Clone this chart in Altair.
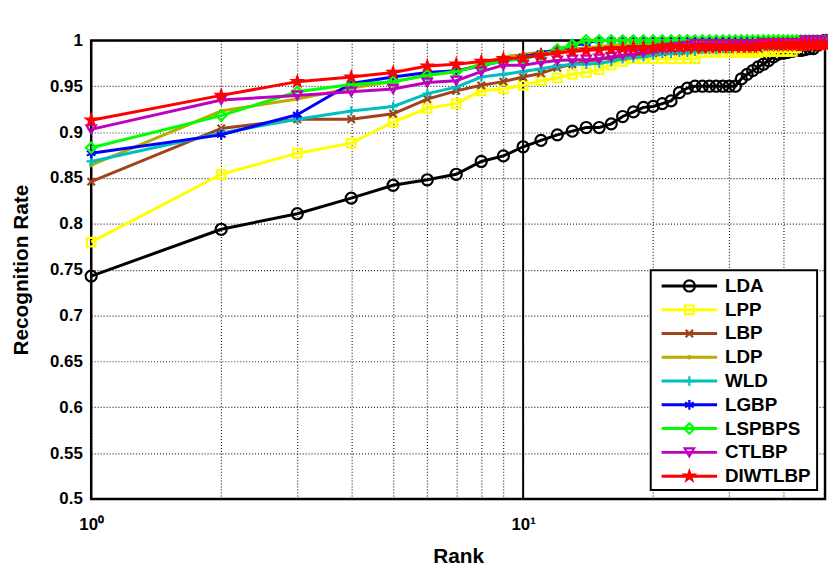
import math
import altair as alt
import pandas as pd

FONT = "Liberation Sans"

ranks = list(range(1, 51))
names = ["LDA", "LPP", "LBP", "LDP", "WLD", "LGBP", "LSPBPS", "CTLBP", "DIWTLBP"]

LDA = [0.743, 0.794, 0.811, 0.828, 0.842, 0.848, 0.854, 0.868, 0.874, 0.884,
       0.891, 0.897, 0.901, 0.905, 0.905, 0.909, 0.917, 0.922, 0.927, 0.928,
       0.931, 0.934, 0.943, 0.948, 0.950, 0.950, 0.950, 0.950, 0.950, 0.950,
       0.950, 0.958, 0.963, 0.967, 0.971, 0.974, 0.978, 0.982, 0.985, 0.986,
       0.987, 0.988, 0.989, 0.989, 0.990, 0.991, 0.991, 0.995, 0.998, 1.000]
LPP = [0.780, 0.854, 0.877, 0.888, 0.911, 0.926, 0.931, 0.945, 0.947, 0.951,
       0.956, 0.959, 0.963, 0.965, 0.968, 0.973, 0.977, 0.980, 0.980, 0.980,
       0.980, 0.980, 0.980, 0.980, 0.980, 0.987, 0.987, 0.987, 0.987, 0.987,
       0.987, 0.987, 0.987, 0.987, 0.987, 0.988, 0.988, 0.988, 0.988, 0.988,
       0.988, 0.988, 0.992, 0.995, 0.995, 0.997, 0.997, 1.000, 1.000, 1.000]
LBP = [0.846, 0.904, 0.914, 0.914, 0.920, 0.936, 0.945, 0.951, 0.955, 0.960,
       0.964, 0.970, 0.974, 0.977, 0.979, 0.981, 0.982, 0.984, 0.985, 0.986,
       0.987, 0.988, 0.988, 0.989, 0.990, 0.990, 0.991, 0.991, 0.992, 0.992,
       0.993, 0.993, 0.994, 0.994, 0.995, 0.995, 0.996, 0.996, 0.997, 0.997,
       0.998, 0.998, 0.999, 1.000, 1.000, 1.000, 1.000, 1.000, 1.000, 1.000]
LDP = [0.864, 0.923, 0.936, 0.948, 0.955, 0.962, 0.966, 0.974, 0.982, 0.985,
       0.987, 0.988, 0.990, 0.992, 0.993, 0.995, 0.995, 0.995, 0.996, 0.996,
       0.997, 0.997, 0.998, 0.998, 1.000, 1.000, 1.000, 1.000, 1.000, 1.000,
       1.000, 1.000, 1.000, 1.000, 1.000, 1.000, 1.000, 1.000, 1.000, 1.000,
       1.000, 1.000, 1.000, 1.000, 1.000, 1.000, 1.000, 1.000, 1.000, 1.000]
WLD = [0.868, 0.899, 0.914, 0.923, 0.928, 0.942, 0.949, 0.960, 0.963, 0.966,
       0.969, 0.972, 0.974, 0.974, 0.975, 0.977, 0.980, 0.981, 0.982, 0.984,
       0.986, 0.986, 0.987, 0.987, 0.988, 0.990, 0.990, 0.990, 0.991, 0.991,
       0.993, 0.993, 0.993, 0.993, 0.994, 0.994, 0.994, 0.995, 0.995, 0.995,
       1.000, 1.000, 1.000, 1.000, 1.000, 1.000, 1.000, 1.000, 1.000, 1.000]
LGBP = [0.877, 0.897, 0.919, 0.953, 0.960, 0.965, 0.967, 0.972, 0.978, 0.982,
        0.986, 0.990, 0.994, 0.997, 1.000, 1.000, 1.000, 1.000, 1.000, 1.000,
        1.000, 1.000, 1.000, 1.000, 1.000, 1.000, 1.000, 1.000, 1.000, 1.000,
        1.000, 1.000, 1.000, 1.000, 1.000, 1.000, 1.000, 1.000, 1.000, 1.000,
        1.000, 1.000, 1.000, 1.000, 1.000, 1.000, 1.000, 1.000, 1.000, 1.000]
LSPBPS = [0.883, 0.918, 0.944, 0.952, 0.955, 0.962, 0.966, 0.973, 0.977, 0.980,
          0.984, 0.990, 0.995, 1.000, 1.000, 1.000, 1.000, 1.000, 1.000, 1.000,
          1.000, 1.000, 1.000, 1.000, 1.000, 1.000, 1.000, 1.000, 1.000, 1.000,
          1.000, 1.000, 1.000, 1.000, 1.000, 1.000, 1.000, 1.000, 1.000, 1.000,
          1.000, 1.000, 1.000, 1.000, 1.000, 1.000, 1.000, 1.000, 1.000, 1.000]
CTLBP = [0.903, 0.935, 0.940, 0.944, 0.947, 0.954, 0.956, 0.966, 0.973, 0.973,
         0.976, 0.978, 0.979, 0.979, 0.980, 0.982, 0.984, 0.985, 0.987, 0.989,
         0.991, 0.992, 0.993, 0.994, 0.996, 0.996, 0.996, 0.996, 0.996, 0.996,
         0.996, 0.996, 0.996, 0.996, 0.996, 0.997, 0.997, 0.997, 0.997, 0.997,
         0.997, 0.997, 0.997, 0.997, 1.000, 1.000, 1.000, 1.000, 1.000, 1.000]
DIWTLBP = [0.913, 0.940, 0.955, 0.960, 0.965, 0.972, 0.974, 0.977, 0.980, 0.981,
           0.984, 0.986, 0.988, 0.989, 0.990, 0.991, 0.991, 0.992, 0.992, 0.992,
           0.993, 0.993, 0.993, 0.993, 0.993, 0.993, 0.993, 0.993, 0.993, 0.993,
           0.993, 0.993, 0.993, 0.993, 0.993, 0.995, 0.995, 0.995, 0.995, 0.995,
           0.995, 0.995, 0.995, 0.995, 0.995, 0.995, 0.995, 0.995, 0.995, 0.995]

series = [LDA, LPP, LBP, LDP, WLD, LGBP, LSPBPS, CTLBP, DIWTLBP]

colors = ["#000000", "#FFFF00", "#A0421A", "#B8AC00", "#00BFBF",
          "#0000FF", "#00FF00", "#BF00BF", "#FF0000"]
STAR = ("M0,-1L0.225,-0.309L0.951,-0.309L0.363,0.118L0.588,0.809L0,0.382"
        "L-0.588,0.809L-0.363,0.118L-0.951,-0.309L-0.225,-0.309Z")
shapes = ["circle", "square", "M-1,-1L1,1M-1,1L1,-1", "circle",
          "M-1,0L1,0M0,-1L0,1",
          "M0,-1L0,1M-0.87,-0.5L0.87,0.5M-0.87,0.5L0.87,-0.5",
          "diamond", "triangle-down", STAR]
sizes = [125, 75, 55, 10, 90, 100, 110, 90, 150]
filled = [False, False, False, True, False, False, False, False, True]

x_grid = [1, 2, 3, 4, 5, 6, 7, 8, 9, 10, 20, 30, 40]
y_ticks = [0.5, 0.55, 0.6, 0.65, 0.7, 0.75, 0.8, 0.85, 0.9, 0.95, 1.0]
decade = [10]

W, H = 741, 463
X_MIN, X_MAX = 1, 50
Y_MIN, Y_MAX = 0.5, 1.0


# legend layout is given in plot pixels and turned into data units
def px_to_rank(px):
    return 10 ** (px / W * math.log10(X_MAX / X_MIN)) * X_MIN


def px_to_rate(py):
    return Y_MAX - py / H * (Y_MAX - Y_MIN)


x_scale = alt.Scale(type="log", domain=[X_MIN, X_MAX], nice=False)
y_scale = alt.Scale(domain=[Y_MIN, Y_MAX], nice=False, zero=False)
x_axis = alt.Axis(
    values=x_grid,
    labelExpr="datum.value == 1 ? '10⁰' : (datum.value == 10 ? '10¹' : '')",
    labelFlush=False,
    labelOverlap=False,
    labelPadding=18,
    title="Rank",
    titleY=64,
    titleBaseline="alphabetic",
    gridDash=[1, 2],
    gridWidth=1.2,
)
y_axis = alt.Axis(
    values=y_ticks,
    format=".2~f",
    labelFlush=False,
    labelOverlap=False,
    labelPadding=9,
    title="Recognition Rate",
    titleX=-64,
    titleY=231.5,
    titleBaseline="alphabetic",
    gridDash=[1, 2],
    gridWidth=1.2,
)
x_enc = alt.X("rank:Q", scale=x_scale, axis=x_axis)
y_enc = alt.Y("rate:Q", scale=y_scale, axis=y_axis)


def point_mark(shape, size, color, is_filled):
    if is_filled:
        return dict(shape=shape, size=size, filled=True, color=color, stroke=color,
                    strokeWidth=1.5, opacity=1)
    return dict(shape=shape, size=size, filled=False, color=color,
                strokeWidth=2.2, opacity=1)


layers = []
# solid major grid line at rank 10
layers.append(
    alt.Chart(pd.DataFrame({"rank": decade})).mark_rule(color="black", strokeWidth=2).encode(x=x_enc)
)
for name, vals, c, s, sz, f in zip(names, series, colors, shapes, sizes, filled):
    df = pd.DataFrame({"rank": ranks, "rate": vals, "method": name})
    base = alt.Chart(df)
    layers.append(base.mark_line(color=c, strokeWidth=3).encode(x=x_enc, y=y_enc))
    layers.append(base.mark_point(**point_mark(s, sz, c, f)).encode(x=x_enc, y=y_enc))

# legend box
box_df = pd.DataFrame({"rank": [px_to_rank(565)], "rank2": [px_to_rank(733)],
                       "rate": [px_to_rate(232)], "rate2": [px_to_rate(454)]})
layers.append(
    alt.Chart(box_df).mark_rect(fill="white", stroke="black", strokeWidth=2).encode(
        x=x_enc, x2="rank2:Q", y=y_enc, y2="rate2:Q")
)
for i, (name, c, s, sz, f) in enumerate(zip(names, colors, shapes, sizes, filled)):
    ry = px_to_rate(248 + 24 * i)
    seg = pd.DataFrame({"rank": [px_to_rank(576)], "rank2": [px_to_rank(632)], "rate": [ry]})
    mk = pd.DataFrame({"rank": [px_to_rank(604)], "rate": [ry]})
    tx = pd.DataFrame({"rank": [px_to_rank(640)], "rate": [ry], "name": [name]})
    layers.append(alt.Chart(seg).mark_rule(color=c, strokeWidth=3).encode(
        x=x_enc, x2="rank2:Q", y=y_enc))
    layers.append(alt.Chart(mk).mark_point(**point_mark(s, sz, c, f)).encode(x=x_enc, y=y_enc))
    layers.append(alt.Chart(tx).mark_text(align="left", baseline="middle", font=FONT, fontSize=19,
                                          fontWeight="bold", color="black").encode(
        x=x_enc, y=y_enc, text="name:N"))

chart = alt.layer(*layers).properties(
    width=W,
    height=H,
    autosize=alt.AutoSizeParams(type="none"),
    padding={"left": 84, "top": 30, "right": 3, "bottom": 62},
    background="white",
    title=alt.TitleParams(
        text="CMC Curve (FEI Database)", font=FONT, fontSize=19, fontWeight="bold",
        color="black", anchor="middle", frame="group", baseline="alphabetic", offset=15,
    ),
).configure_view(
    stroke="black", strokeWidth=2.5
).configure_axis(
    domain=False, ticks=False, tickSize=0,
    gridColor="#000000", gridOpacity=0.85,
    labelFont=FONT, labelFontSize=17, labelFontWeight="bold", labelColor="black",
    titleFont=FONT, titleFontSize=21, titleFontWeight="bold", titleColor="black",
)

chart.save("out.html", embed_options={"renderer": "svg", "actions": False})
